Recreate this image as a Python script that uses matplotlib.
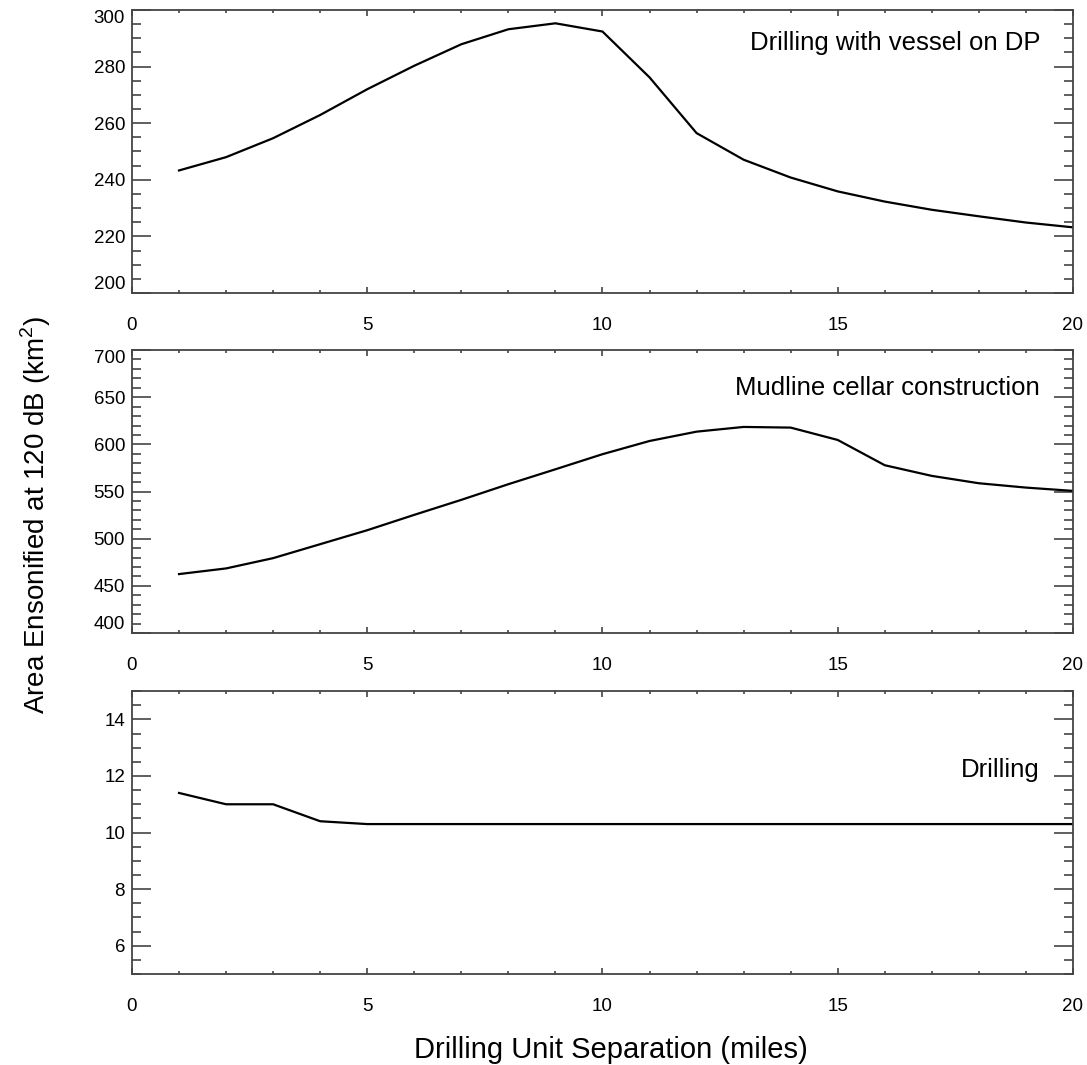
import matplotlib
matplotlib.use('Agg')
import matplotlib.pyplot as plt

plt.rcParams['font.family'] = ['Liberation Sans', 'DejaVu Sans']
plt.rcParams['mathtext.fontset'] = 'custom'
plt.rcParams['mathtext.rm'] = 'Liberation Sans'

# Drilling unit separation (miles)
separation = list(range(1, 21))

# Area ensonified at 120 dB (km^2) for each activity
dp_vessel = [243.3, 248.0, 254.7, 262.9, 272.0, 280.3, 287.9, 293.2, 295.3, 292.4,
             276.2, 256.5, 247.1, 240.8, 235.9, 232.3, 229.4, 227.1, 224.9, 223.2]
mudline = [462.5, 468.5, 479.4, 494.2, 509.0, 525.3, 541.2, 557.8, 573.6, 589.6,
           603.6, 613.5, 618.5, 617.8, 604.7, 577.9, 566.6, 558.8, 554.2, 550.7]
drilling = [11.4, 11.0, 11.0, 10.4, 10.3, 10.3, 10.3, 10.3, 10.3, 10.3,
            10.3, 10.3, 10.3, 10.3, 10.3, 10.3, 10.3, 10.3, 10.3, 10.3]

x_ticks = [0, 5, 10, 15, 20]
dp_ticks = [200, 220, 240, 260, 280, 300]
mud_ticks = [400, 450, 500, 550, 600, 650, 700]
drill_ticks = [6, 8, 10, 12, 14]

# data, name, limits, major ticks, minor step, label y (axes frac), shift end labels
panels = [
    (dp_vessel, 'Drilling with vessel on DP', (200, 300), dp_ticks, 5, 0.883, True),
    (mudline, 'Mudline cellar construction', (400, 700), mud_ticks, 10, 0.866, True),
    (drilling, 'Drilling', (5, 15), drill_ticks, 0.5, 0.72, False),
]

fig = plt.figure(figsize=(10.87, 10.65), dpi=100)
frame = '#444444'

bottoms = [0.7249, 0.4056, 0.0854]
for (vals, name, ylim, yt, minor, ty, shift_ends), b in zip(panels, bottoms):
    ax = fig.add_axes([0.1214, b, 0.8657, 0.2657])
    ax.plot(separation, vals, color='black', linewidth=1.6)
    ax.set_xlim(0, 20)
    ax.set_ylim(*ylim)
    ax.set_xticks(x_ticks)
    ax.set_xticks(range(0, 21), minor=True)
    ax.set_yticks(yt)
    n = int(round((ylim[1] - ylim[0]) / minor))
    ax.set_yticks([ylim[0] + i * minor for i in range(n + 1)], minor=True)
    for s in ax.spines.values():
        s.set_color(frame)
        s.set_linewidth(1.3)
    ax.tick_params(which='both', direction='in', top=True, right=True,
                   color=frame, labelsize=13.5, width=1.2)
    ax.tick_params(axis='x', which='major', length=4.5, pad=17)
    ax.tick_params(axis='x', which='minor', length=2.2)
    ax.tick_params(axis='y', which='major', length=13.5, pad=5)
    ax.tick_params(axis='y', which='minor', length=6.8)
    ax.text(0.965, ty, name, transform=ax.transAxes, ha='right', va='center',
            fontsize=18.5)
    if shift_ends:
        ticks = ax.yaxis.get_major_ticks()
        ticks[0].label1.set_va('bottom')
        ticks[-1].label1.set_va('top')

fig.text(0.033, 0.516, 'Area Ensonified at 120 dB (km$^2$)', rotation=90,
         ha='center', va='center', fontsize=20)
fig.text(0.562, 0.014, 'Drilling Unit Separation (miles)', ha='center',
         va='center', fontsize=21)

fig.savefig('out.png', dpi=100)
